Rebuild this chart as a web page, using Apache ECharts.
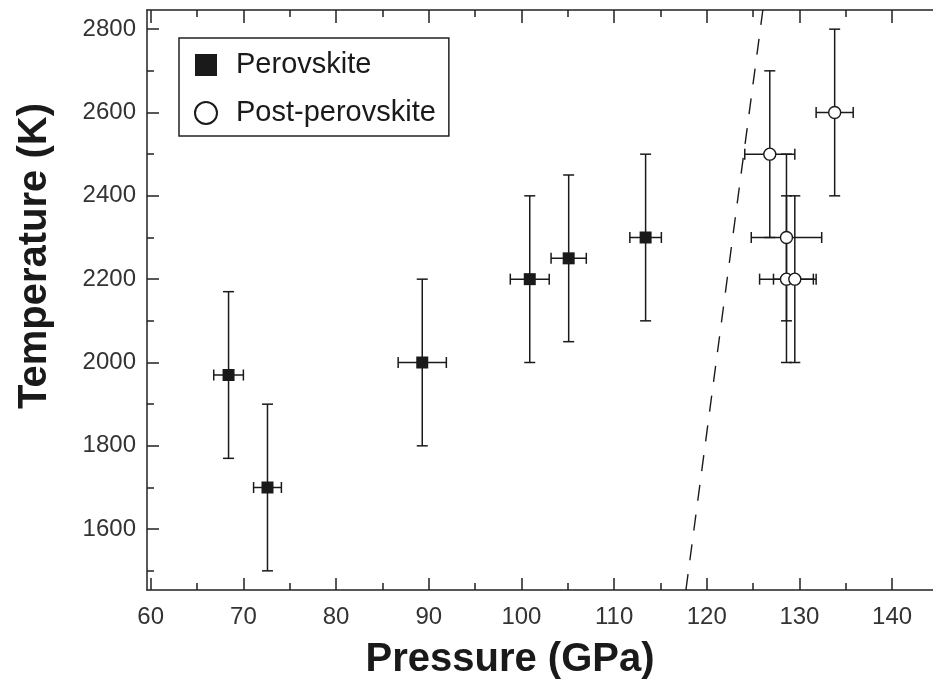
<!DOCTYPE html>
<html>
<head>
<meta charset="utf-8">
<script src="https://cdn.jsdelivr.net/npm/echarts@6/dist/echarts.min.js"></script>
<style>
  html, body { margin: 0; padding: 0; background: #fff; overflow: hidden; }
  #chart { width: 933px; height: 691px; }
</style>
</head>
<body>
<div id="chart"></div>
<script>
// Perovskite measurements: pressure (GPa), temperature (K) and their uncertainties
const perovP    = [68.4, 72.6, 89.3, 100.9, 105.1, 113.4];
const perovT    = [1970, 1700, 2000, 2200, 2250, 2300];
const perovPErr = [1.6, 1.5, 2.6, 2.1, 1.9, 1.7];
const perovTErr = [200, 200, 200, 200, 200, 200];

// Post-perovskite measurements
const postP    = [126.8, 133.8, 128.6, 128.6, 129.5];
const postT    = [2500, 2600, 2300, 2200, 2200];
const postPErr = [2.7, 2.0, 3.8, 2.9, 2.3];
const postTErr = [200, 200, 200, 200, 200];

// Phase boundary (dashed line) end points
const boundaryP = [117.75, 126.05];
const boundaryT = [1454, 2846];

// Axis ticks
const xMajorTicks = [60, 70, 80, 90, 100, 110, 120, 130, 140];
const xMinorTicks = [65, 75, 85, 95, 105, 115, 125, 135, 145];
const yMajorTicks = [1600, 1800, 2000, 2200, 2400, 2600, 2800];
const yMinorTicks = [1500, 1700, 1900, 2100, 2300, 2500, 2700];

const X_MIN = 59.6, X_MAX = 147;
const Y_MIN = 1454, Y_MAX = 2846;

const FONT = '"Liberation Sans", Arial, Helvetica, sans-serif';
const INK = '#1a1a1a';
const axisLineStyle = { color: '#222', width: 1.5 };

function rows(p, t, dp, dt) {
  return p.map((v, i) => [v, t[i], dp[i], dt[i]]);
}

function errorBars(params, api) {
  const p = api.value(0), t = api.value(1), dp = api.value(2), dt = api.value(3);
  const top = api.coord([p, t + dt]);
  const bot = api.coord([p, t - dt]);
  const lft = api.coord([p - dp, t]);
  const rgt = api.coord([p + dp, t]);
  const cap = 5.5;
  const style = { stroke: INK, lineWidth: 1.5, fill: null };
  const seg = (x1, y1, x2, y2) => ({ type: 'line', shape: { x1, y1, x2, y2 }, style });
  return {
    type: 'group',
    children: [
      seg(top[0], top[1], bot[0], bot[1]),
      seg(top[0] - cap, top[1], top[0] + cap, top[1]),
      seg(bot[0] - cap, bot[1], bot[0] + cap, bot[1]),
      seg(lft[0], lft[1], rgt[0], rgt[1]),
      seg(lft[0], lft[1] - cap, lft[0], lft[1] + cap),
      seg(rgt[0], rgt[1] - cap, rgt[0], rgt[1] + cap)
    ]
  };
}

const plainNumber = v => String(Math.round(v));

function xAxisDef(position, ticks, len, showLine, showLabel) {
  return {
    type: 'value', min: X_MIN, max: X_MAX, position,
    axisLine: { show: showLine, onZero: false, lineStyle: axisLineStyle },
    axisTick: { show: true, inside: true, length: len, customValues: ticks, lineStyle: axisLineStyle },
    axisLabel: showLabel ? {
      show: true, customValues: ticks, margin: 15, formatter: plainNumber,
      fontFamily: FONT, fontSize: 24, color: '#333'
    } : { show: false },
    splitLine: { show: false }
  };
}

function yAxisDef(ticks, len, showLine, showLabel) {
  return {
    type: 'value', min: Y_MIN, max: Y_MAX, position: 'left',
    axisLine: { show: showLine, onZero: false, lineStyle: axisLineStyle },
    axisTick: { show: true, inside: true, length: len, customValues: ticks, lineStyle: axisLineStyle },
    axisLabel: showLabel ? {
      show: true, customValues: ticks, margin: 11, formatter: plainNumber,
      fontFamily: FONT, fontSize: 24, color: '#333'
    } : { show: false },
    splitLine: { show: false }
  };
}

const chart = echarts.init(document.getElementById('chart'), null, { renderer: 'canvas' });

chart.setOption({
  animation: false,
  backgroundColor: '#fff',
  grid: { left: 147, top: 10, width: 810, height: 580, containLabel: false, outerBoundsMode: 'none' },
  xAxis: [
    xAxisDef('bottom', xMajorTicks, 12, true, true),
    xAxisDef('bottom', xMinorTicks, 7, false, false),
    xAxisDef('top', xMajorTicks, 13, true, false),
    xAxisDef('top', xMinorTicks, 7, false, false)
  ],
  yAxis: [
    yAxisDef(yMajorTicks, 12, true, true),
    yAxisDef(yMinorTicks, 7, false, false)
  ],
  legend: {
    left: 179, top: 38, orient: 'vertical',
    padding: [12, 13, 8, 15],
    borderColor: '#222', borderWidth: 1.5,
    itemWidth: 22, itemHeight: 22, itemGap: 18,
    textStyle: { fontFamily: FONT, fontSize: 29, color: INK, lineHeight: 30, padding: [0, 0, 0, 14] },
    data: [
      { name: 'Perovskite', icon: 'rect' },
      { name: 'Post-perovskite', icon: 'circle' }
    ]
  },
  graphic: [
    {
      type: 'text', x: 510, y: 660,
      style: { text: 'Pressure (GPa)', font: 'bold 40px ' + FONT, fill: INK, align: 'center', verticalAlign: 'middle' }
    },
    {
      type: 'text', x: 35, y: 256, rotation: Math.PI / 2,
      style: { text: 'Temperature (K)', font: 'bold 40px ' + FONT, fill: INK, align: 'center', verticalAlign: 'middle' }
    }
  ],
  series: [
    {
      type: 'line', name: 'boundary', silent: true,
      data: boundaryP.map((p, i) => [p, boundaryT[i]]),
      showSymbol: false, symbol: 'none',
      lineStyle: { color: INK, width: 1.4, type: [16, 14] },
      z: 1
    },
    {
      type: 'custom', name: 'perovErr', silent: true,
      renderItem: errorBars,
      encode: { x: 0, y: 1 },
      data: rows(perovP, perovT, perovPErr, perovTErr),
      z: 2
    },
    {
      type: 'custom', name: 'postErr', silent: true,
      renderItem: errorBars,
      encode: { x: 0, y: 1 },
      data: rows(postP, postT, postPErr, postTErr),
      z: 2
    },
    {
      type: 'scatter', name: 'Perovskite',
      symbol: 'rect', symbolSize: 12,
      itemStyle: { color: INK, opacity: 1 },
      data: perovP.map((p, i) => [p, perovT[i]]),
      z: 3
    },
    {
      type: 'scatter', name: 'Post-perovskite',
      symbol: 'circle', symbolSize: 12,
      itemStyle: { color: '#fff', borderColor: INK, borderWidth: 1.4, opacity: 1 },
      data: postP.map((p, i) => [p, postT[i]]),
      z: 3
    }
  ]
});
</script>
</body>
</html>
